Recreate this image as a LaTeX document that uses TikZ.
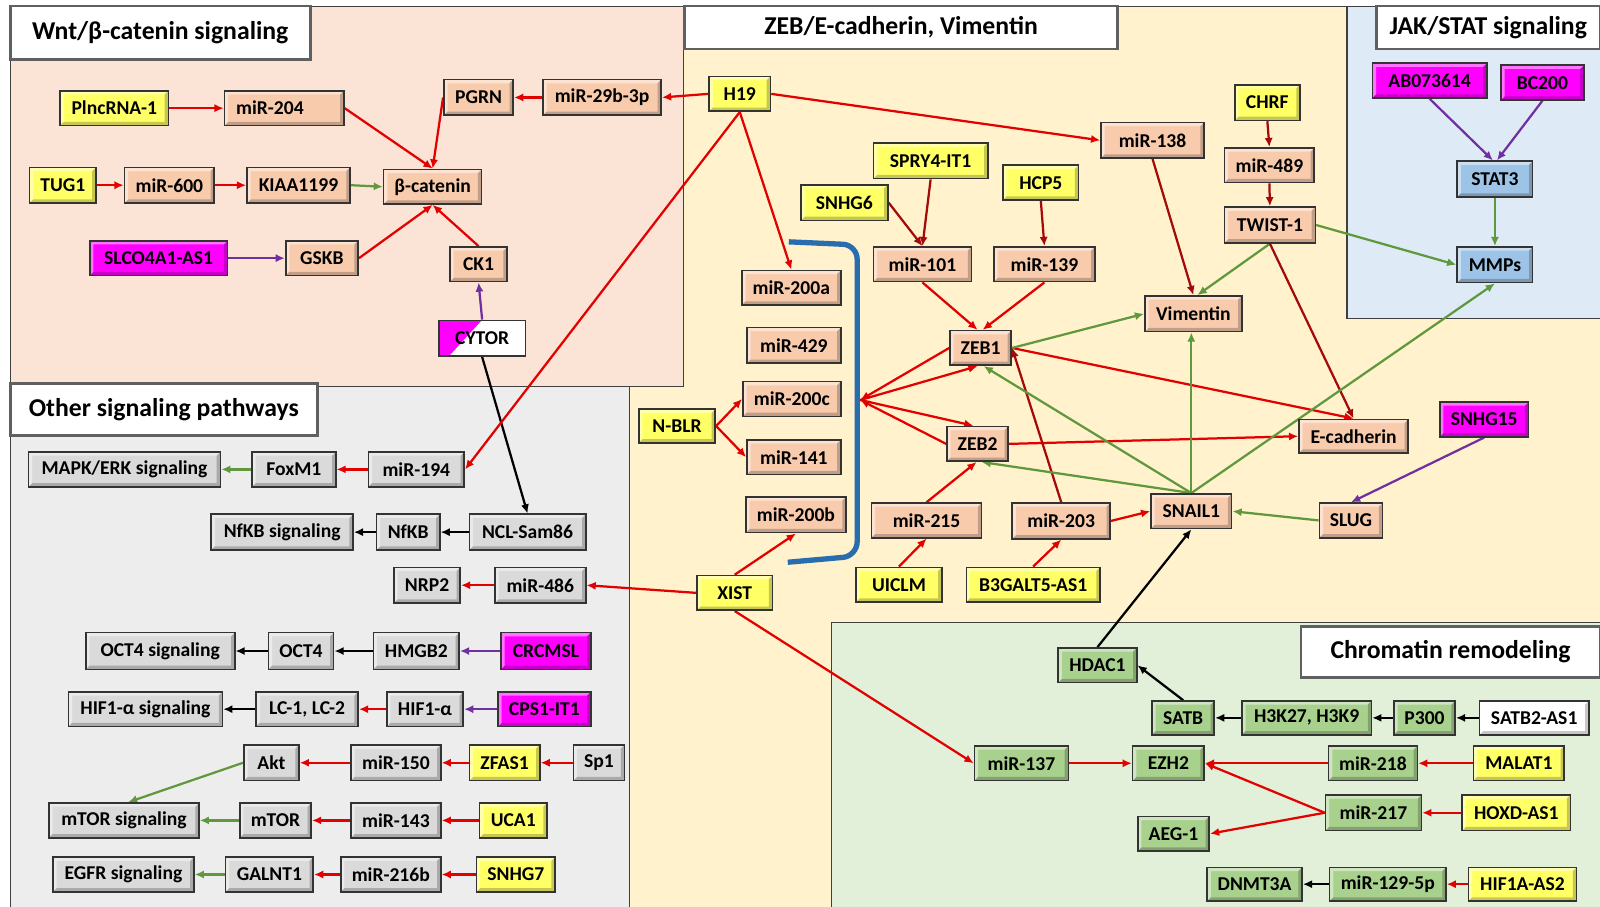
\documentclass[tikz,border=0pt]{standalone}
\usepackage{fontspec}
\setmainfont{Carlito}
\usetikzlibrary{arrows.meta,calc}
\pgfdeclarelayer{back}
\pgfdeclarelayer{mid}
\pgfsetlayers{back,mid,main}
\definecolor{cSal}{HTML}{F8CBAD}
\definecolor{cYel}{HTML}{FFFF66}
\definecolor{cMag}{HTML}{FF00FF}
\definecolor{cGry}{HTML}{DADADA}
\definecolor{cGrn}{HTML}{A9D18E}
\definecolor{cBlu}{HTML}{9DC3E6}
\definecolor{rWnt}{HTML}{FBE3D5}
\definecolor{rZeb}{HTML}{FFF2CC}
\definecolor{rJak}{HTML}{DEEBF7}
\definecolor{rOth}{HTML}{EDEDED}
\definecolor{rChr}{HTML}{E2F0D9}
\definecolor{lRed}{RGB}{226,0,0}
\definecolor{lDrd}{RGB}{165,10,10}
\definecolor{lGrn}{RGB}{96,152,62}
\definecolor{lPur}{RGB}{112,48,160}
\definecolor{lBrk}{RGB}{40,110,175}
\newcommand\mkbox[7]{\node[#2,minimum width={(#4-#3)*0.5pt},minimum height={(#6-#5)*0.5pt}] (#1) at ({(#3+#4)/2},{(#5+#6)/2}) {#7};}
\tikzset{
  bevel/.style={path picture={
    \fill[white,opacity=0.45] (path picture bounding box.north west) -- (path picture bounding box.north east) -- ([xshift=-1.8pt,yshift=-1.8pt]path picture bounding box.north east) -- ([xshift=1.8pt,yshift=-1.8pt]path picture bounding box.north west) -- ([xshift=1.8pt,yshift=1.8pt]path picture bounding box.south west) -- (path picture bounding box.south west) -- cycle;
    \fill[black,opacity=0.22] (path picture bounding box.south west) -- (path picture bounding box.south east) -- (path picture bounding box.north east) -- ([xshift=-1.8pt,yshift=-1.8pt]path picture bounding box.north east) -- ([xshift=-1.8pt,yshift=1.8pt]path picture bounding box.south east) -- ([xshift=1.8pt,yshift=1.8pt]path picture bounding box.south west) -- cycle;}},
  bxs/.style={draw=black!80,line width=0.8pt,inner sep=0pt,font=\bfseries\fontsize{9.6}{11}\selectfont},
  salb/.style={bxs,fill=cSal,bevel},
  yelb/.style={bxs,fill=cYel,bevel},
  magb/.style={bxs,fill=cMag,bevel},
  gryb/.style={bxs,fill=cGry,bevel},
  grnb/.style={bxs,fill=cGrn,bevel},
  blub/.style={bxs,fill=cBlu,bevel},
  whtb/.style={bxs,fill=white,bevel},
  cytb/.style={bxs,fill=white,path picture={\fill[cMag] (path picture bounding box.south west) -- (path picture bounding box.north west) -- ([xshift=21pt]path picture bounding box.north west) -- ([xshift=5pt]path picture bounding box.south west) -- cycle;}},
  ttl/.style={draw=gray!75!black,line width=1.3pt,fill=white,inner sep=0pt,font=\bfseries\fontsize{12.6}{15}\selectfont},
  region/.style={draw=black!75,line width=0.6pt},
  conn/.style={line width=1.1pt,-{Latex[length=4.5pt,width=4pt]}},
  ar/.style={conn,draw=lRed},
  adr/.style={conn,draw=lDrd},
  ag/.style={conn,draw=lGrn},
  ap/.style={conn,draw=lPur},
  ak/.style={conn,draw=black}
}
\begin{document}
\begin{tikzpicture}[x=0.5pt,y=-0.5pt]
\useasboundingbox (0,0) rectangle (1568,888);
\begin{pgfonlayer}{back}
\fill[white] (0,0) rectangle (1568,888);
\filldraw[region,fill=rZeb] (617,6) rectangle (1570,890);
\filldraw[region,fill=rWnt] (10,6) rectangle (670,379);
\filldraw[region,fill=rOth] (10,379) rectangle (617,890);
\filldraw[region,fill=rJak] (1320,6) rectangle (1570,312);
\filldraw[region,fill=rChr] (815,610) rectangle (1570,890);
\draw[lBrk,line width=2.6pt,rounded corners=7pt] (773,237) -- (840,240) -- (840,545) -- (772,551);
\end{pgfonlayer}
\coordinate (brk) at (843,392);
% titles
\mkbox{ttlwnt}{ttl}{10}{304}{6}{58}{Wnt/β-catenin signaling}
\mkbox{ttlzeb}{ttl}{671}{1095}{6}{48}{ZEB/E-cadherin, Vimentin}
\mkbox{ttljak}{ttl}{1349}{1568}{6}{48}{JAK/STAT signaling}
\mkbox{ttloth}{ttl}{10}{311}{376}{427}{Other signaling pathways}
\mkbox{ttlchr}{ttl}{1275}{1568}{614}{664}{Chromatin remodeling}
% Wnt
\mkbox{plnc}{yelb}{59}{165}{89}{123}{PlncRNA-1}
\mkbox{mir204}{salb}{220}{337}{89}{123}{miR-204\kern14pt}
\mkbox{pgrn}{salb}{435}{503}{78}{113}{PGRN}
\mkbox{m29}{salb}{532}{648}{78}{113}{miR-29b-3p}
\mkbox{tug1}{yelb}{29}{94}{164}{199}{TUG1}
\mkbox{mir600}{salb}{122}{210}{164}{199}{miR-600}
\mkbox{kiaa}{salb}{242}{343}{164}{199}{KIAA1199}
\mkbox{bcat}{salb}{376}{472}{166}{200}{β-catenin}
\mkbox{slco}{magb}{88}{223}{236}{270}{SLCO4A1-AS1}
\mkbox{gskb}{salb}{280}{351}{236}{270}{GSKB}
\mkbox{ck1}{salb}{441}{497}{242}{276}{CK1}
\mkbox{cytor}{cytb}{430}{515}{314}{349}{CYTOR}
% ZEB
\mkbox{h19}{yelb}{695}{755}{75}{109}{H19}
\mkbox{m138}{salb}{1079}{1180}{120}{155}{miR-138}
\mkbox{chrf}{yelb}{1210}{1274}{83}{118}{CHRF}
\mkbox{m489}{salb}{1200}{1288}{145}{179}{miR-489}
\mkbox{twist}{salb}{1200}{1289}{203}{238}{TWIST-1}
\mkbox{spry}{yelb}{856}{968}{140}{175}{SPRY4-IT1}
\mkbox{snhg6}{yelb}{785}{870}{181}{216}{SNHG6}
\mkbox{hcp5}{yelb}{983}{1057}{162}{196}{HCP5}
\mkbox{m101}{salb}{856}{952}{242}{276}{miR-101}
\mkbox{m139}{salb}{974}{1073}{242}{276}{miR-139}
\mkbox{m200a}{salb}{727}{824}{265}{299}{miR-200a}
\mkbox{m429}{salb}{732}{824}{321}{356}{miR-429}
\mkbox{m200c}{salb}{728}{824}{374}{408}{miR-200c}
\mkbox{m141}{salb}{732}{824}{431}{465}{miR-141}
\mkbox{m200b}{salb}{731}{829}{487}{522}{miR-200b}
\mkbox{nblr}{yelb}{626}{701}{401}{434}{N-BLR}
\mkbox{xist}{yelb}{683}{757}{564}{598}{XIST}
\mkbox{zeb1}{salb}{931}{991}{324}{358}{ZEB1}
\mkbox{zeb2}{salb}{928}{988}{418}{452}{ZEB2}
\mkbox{vim}{salb}{1122}{1217}{290}{325}{Vimentin}
\mkbox{ecad}{salb}{1273}{1380}{411}{444}{E-cadherin}
\mkbox{snhg15}{magb}{1411}{1498}{394}{428}{SNHG15}
\mkbox{snail}{salb}{1128}{1207}{484}{518}{SNAIL1}
\mkbox{slug}{salb}{1293}{1355}{493}{527}{SLUG}
\mkbox{m215}{salb}{854}{962}{493}{527}{miR-215}
\mkbox{m203}{salb}{992}{1088}{493}{528}{miR-203}
\mkbox{uiclm}{yelb}{839}{923}{556}{590}{UICLM}
\mkbox{b3g}{yelb}{947}{1078}{556}{590}{B3GALT5-AS1}
% JAK
\mkbox{ab07}{magb}{1345}{1457}{62}{96}{AB073614}
\mkbox{bc200}{magb}{1471}{1552}{64}{98}{BC200}
\mkbox{stat3}{blub}{1428}{1502}{158}{193}{STAT3}
\mkbox{mmps}{blub}{1428}{1502}{242}{277}{MMPs}
% Other
\mkbox{mapk}{gryb}{28}{216}{443}{477}{MAPK/ERK signaling}
\mkbox{foxm1}{gryb}{247}{329}{443}{477}{FoxM1}
\mkbox{m194}{gryb}{361}{455}{443}{477}{miR-194}
\mkbox{nfkbs}{gryb}{207}{346}{504}{539}{NfKB signaling}
\mkbox{nfkb}{gryb}{369}{431}{504}{539}{NfKB}
\mkbox{ncl}{gryb}{460}{574}{504}{539}{NCL-Sam86}
\mkbox{nrp2}{gryb}{386}{451}{556}{591}{NRP2}
\mkbox{m486}{gryb}{485}{574}{556}{591}{miR-486}
\mkbox{oct4s}{gryb}{84}{230}{620}{656}{OCT4 signaling}
\mkbox{oct4}{gryb}{263}{327}{620}{656}{OCT4}
\mkbox{hmgb2}{gryb}{366}{450}{620}{656}{HMGB2}
\mkbox{crcmsl}{magb}{491}{579}{620}{656}{CRCMSL}
\mkbox{hifs}{gryb}{67}{218}{678}{712}{HIF1-α signaling}
\mkbox{lc}{gryb}{251}{351}{678}{712}{LC-1, LC-2}
\mkbox{hif}{gryb}{379}{454}{678}{712}{HIF1-α}
\mkbox{cps1}{magb}{488}{579}{678}{712}{CPS1-IT1}
\mkbox{akt}{gryb}{239}{293}{730}{765}{Akt}
\mkbox{m150}{gryb}{344}{432}{730}{765}{miR-150}
\mkbox{zfas1}{yelb}{460}{529}{730}{765}{ZFAS1}
\mkbox{sp1}{gryb}{562}{612}{730}{765}{Sp1}
\mkbox{mtors}{gryb}{48}{195}{787}{821}{mTOR signaling}
\mkbox{mtor}{gryb}{235}{305}{787}{821}{mTOR}
\mkbox{m143}{gryb}{344}{432}{787}{821}{miR-143}
\mkbox{uca1}{yelb}{470}{536}{787}{821}{UCA1}
\mkbox{egfrs}{gryb}{52}{190}{840}{874}{EGFR signaling}
\mkbox{galnt1}{gryb}{221}{307}{840}{874}{GALNT1}
\mkbox{m216b}{gryb}{334}{432}{840}{874}{miR-216b}
\mkbox{snhg7}{yelb}{467}{544}{840}{874}{SNHG7}
% Chromatin
\mkbox{hdac1}{grnb}{1037}{1114}{635}{669}{HDAC1}
\mkbox{satb}{grnb}{1129}{1190}{687}{720}{SATB}
\mkbox{h3k}{grnb}{1217}{1344}{687}{720}{H3K27, H3K9}
\mkbox{p300}{grnb}{1366}{1426}{687}{720}{P300}
\mkbox{satb2}{whtb}{1450}{1557}{687}{720}{SATB2-AS1}
\mkbox{m137}{grnb}{955}{1047}{731}{765}{miR-137}
\mkbox{ezh2}{grnb}{1110}{1180}{731}{765}{EZH2}
\mkbox{m218}{grnb}{1302}{1389}{731}{765}{miR-218}
\mkbox{malat1}{yelb}{1444}{1533}{731}{765}{MALAT1}
\mkbox{m217}{grnb}{1299}{1393}{779}{814}{miR-217}
\mkbox{hoxd}{yelb}{1433}{1539}{779}{814}{HOXD-AS1}
\mkbox{aeg1}{grnb}{1115}{1185}{800}{834}{AEG-1}
\mkbox{dnmt}{grnb}{1183}{1276}{850}{883}{DNMT3A}
\mkbox{m129}{grnb}{1303}{1417}{850}{883}{miR-129-5p}
\mkbox{hifas2}{yelb}{1439}{1545}{850}{883}{HIF1A-AS2}
\begin{pgfonlayer}{mid}
% Wnt
\draw[ar] (plnc.east) -- (mir204.west);
\draw[ar] (mir204.east) -- (bcat.north);
\draw[ar] (pgrn.west) -- (bcat.north);
\draw[ar] (m29.west) -- (pgrn.east);
\draw[ar] (h19.west) -- (m29.east);
\draw[ar] (tug1.east) -- (mir600.west);
\draw[ar] (mir600.east) -- (kiaa.west);
\draw[ag] (kiaa.east) -- (bcat.west);
\draw[ap] (slco.east) -- (gskb.west);
\draw[ar] (gskb.east) -- (bcat.south);
\draw[ar] (ck1.north) -- (bcat.south);
\draw[ap] (cytor.north) -- (ck1.south);
\draw[ak] (cytor.south) -- (ncl.north);
% H19
\draw[ar] (h19.east) -- (m138.west);
\draw[ar] (h19.south) -- (m200a.north);
\draw[ar] (h19.south) -- (m194.east);
% ZEB
\draw[adr] (chrf.south) -- (m489.north);
\draw[adr] (m489.south) -- (twist.north);
\draw[adr] (m138.south) -- (vim.north);
\draw[ag] (twist.south) -- ($(vim.north)+(4,0)$);
\draw[ag] (twist.east) -- (mmps.west);
\draw[adr] (twist.south) -- (ecad.north);
\draw[ar] (zeb1.east) -- (ecad.north);
\draw[ag] (zeb1.east) -- (vim.west);
\draw[adr] (spry.south) -- (m101.north);
\draw[adr] (snhg6.east) -- (m101.north);
\draw[adr] (hcp5.south) -- (m139.north);
\draw[ar] (m101.south) -- ($(zeb1.north)+(-3,0)$);
\draw[ar] (m139.south) -- ($(zeb1.north)+(2,0)$);
\draw[ar] (zeb1.west) -- (brk);
\draw[ar] (brk) -- ($(zeb1.south)+(-3,0)$);
\draw[ar] (brk) -- ($(zeb2.north)+(-4,0)$);
\draw[ar] (zeb2.west) -- (brk);
\draw[ar] (zeb2.east) -- (ecad.west);
\draw[ar] (m215.north) -- ($(zeb2.south)+(-1,0)$);
\draw[ar] (uiclm.north) -- (m215.south);
\draw[ar] (b3g.north) -- (m203.south);
\draw[adr] (m203.north) -- (zeb1.east);
\draw[ar] (m203.east) -- (snail.west);
\draw[ag] (snail.north) -- (snail.north |- vim.south);
\draw[ag] (snail.north) -- ($(zeb1.south)+(3,0)$);
\draw[ag] (snail.north) -- ($(zeb2.south)+(4,0)$);
\draw[ag] (snail.north) -- (mmps.south);
\draw[ag] (slug.west) -- (snail.east);
\draw[ap] (snhg15.south) -- (slug.north);
\draw[ar] (nblr.east) -- (m200c.west);
\draw[ar] (nblr.east) -- (m141.west);
\draw[ar] (xist.north) -- (m200b.south);
\draw[ar] (xist.west) -- (m486.east);
\draw[ar] (xist.south) -- (m137.west);
\draw[ak] (hdac1.north) -- (snail.south);
% Chromatin
\draw[ak] (satb.north) -- (hdac1.east);
\draw[ak] (h3k.west) -- (satb.east);
\draw[ak] (p300.west) -- (h3k.east);
\draw[ak] (satb2.west) -- (p300.east);
\draw[ar] (m137.east) -- (ezh2.west);
\draw[ar] (m218.west) -- (ezh2.east);
\draw[ar] (malat1.west) -- (m218.east);
\draw[ar] (m217.west) -- (ezh2.east);
\draw[ar] (m217.west) -- (aeg1.east);
\draw[ar] (hoxd.west) -- (m217.east);
\draw[ak] (m129.west) -- (dnmt.east);
\draw[ar] (hifas2.west) -- (m129.east);
% Other
\draw[ar] (m194.west) -- (foxm1.east);
\draw[ag] (foxm1.west) -- (mapk.east);
\draw[ak] (ncl.west) -- (nfkb.east);
\draw[ak] (nfkb.west) -- (nfkbs.east);
\draw[ar] (m486.west) -- (nrp2.east);
\draw[ak] (hmgb2.west) -- (oct4.east);
\draw[ak] (oct4.west) -- (oct4s.east);
\draw[ap] (crcmsl.west) -- (hmgb2.east);
\draw[ar] (hif.west) -- (lc.east);
\draw[ak] (lc.west) -- (hifs.east);
\draw[ap] (cps1.west) -- (hif.east);
\draw[ar] (m150.west) -- (akt.east);
\draw[ar] (zfas1.west) -- (m150.east);
\draw[ar] (sp1.west) -- (zfas1.east);
\draw[ag] (akt.west) -- ($(mtors.north)+(4,0)$);
\draw[ar] (m143.west) -- (mtor.east);
\draw[ar] (uca1.west) -- (m143.east);
\draw[ag] (mtor.west) -- (mtors.east);
\draw[ar] (m216b.west) -- (galnt1.east);
\draw[ar] (snhg7.west) -- (m216b.east);
\draw[ag] (galnt1.west) -- (egfrs.east);
% JAK
\draw[ap] (ab07.south) -- ($(stat3.north)+(-2,0)$);
\draw[ap] (bc200.south) -- ($(stat3.north)+(2,0)$);
\draw[ag] (stat3.south) -- (mmps.north);
\end{pgfonlayer}
\end{tikzpicture}
\end{document}
